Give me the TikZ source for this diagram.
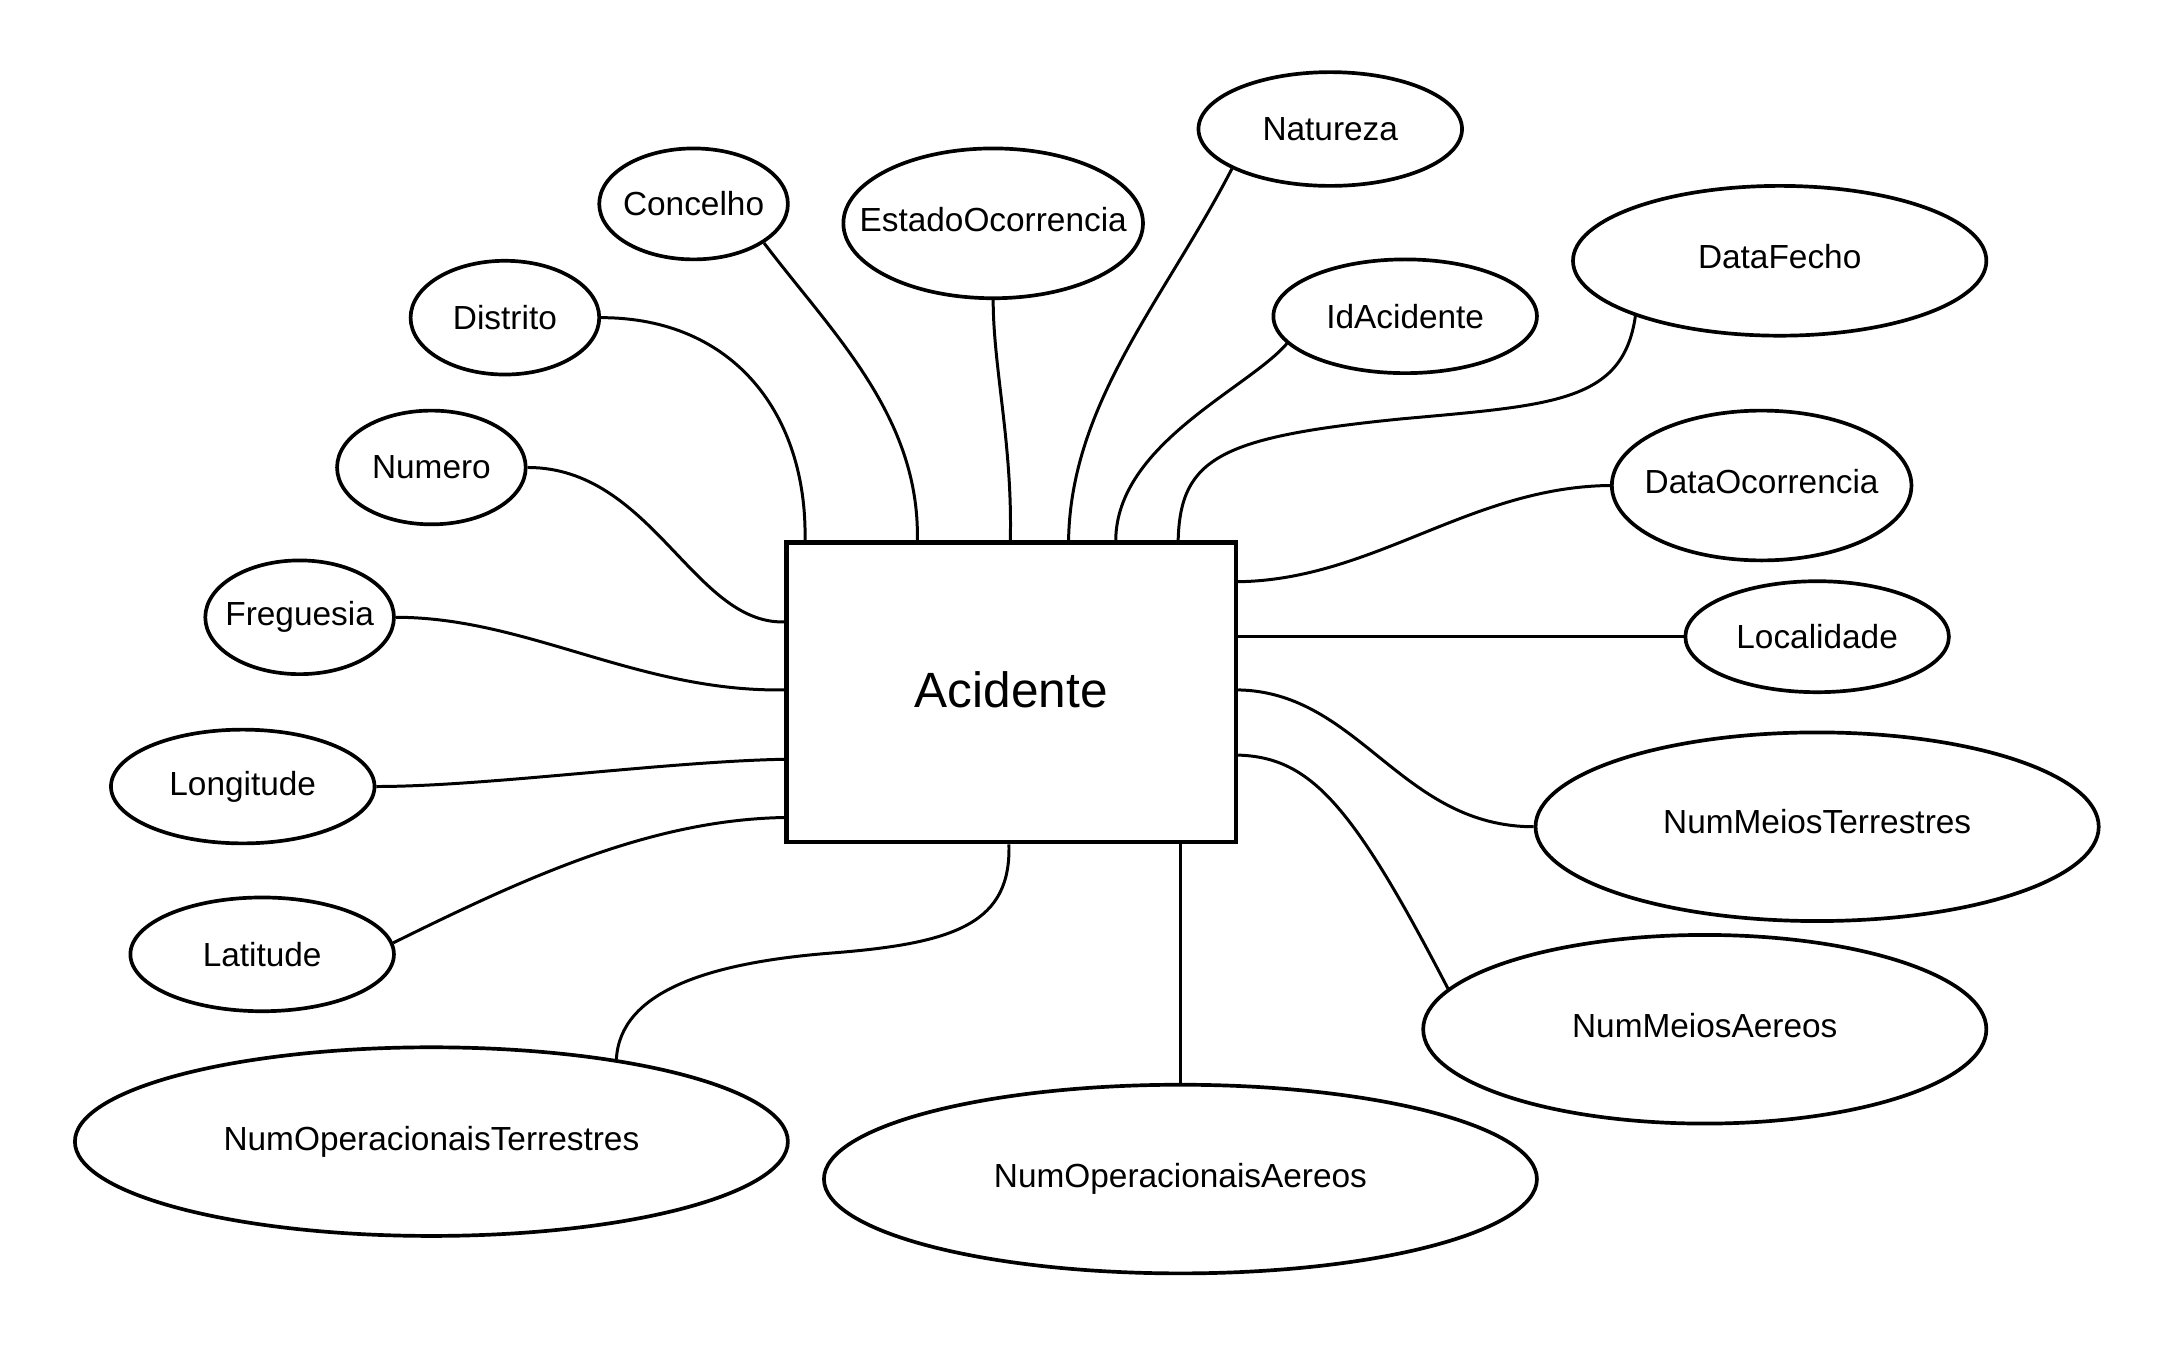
\documentclass[tikz,border=0pt]{standalone}
\usepackage{fontspec}
\setmainfont{Liberation Sans}
\usetikzlibrary{shapes.geometric,calc}
\newcommand\attrtext[2][0pt]{\raisebox{#1}{\makebox[0pt]{#2}}}
\tikzset{
  attr/.style n args={2}{ellipse, draw, line width=1.05pt, inner sep=0pt,
    minimum width={2*#1*0.01387cm}, minimum height={2*#2*0.01387cm},
    font=\fontsize{9.5}{11}\selectfont},
  entity/.style={draw, line width=1.3pt, inner sep=0pt,
    minimum width={324*0.01387cm}, minimum height={216*0.01387cm},
    font=\fontsize{14.1}{16}\selectfont},
  conn/.style={line width=0.85pt}
}
\begin{document}
\begin{tikzpicture}[x=0.01387cm, y=-0.01387cm]
\useasboundingbox (0,0) rectangle (1568,973);
\node[entity] (R) at (729,499) {\raisebox{1.6pt}{Acidente}};
\node[attr={68}{41}] (dis) at (364,229) {\attrtext{Distrito}};
\node[attr={68}{40}] (con) at (500,147) {\attrtext{Concelho}};
\node[attr={108}{54}] (est) at (716,161) {\attrtext[2.4pt]{EstadoOcorrencia}};
\node[attr={95}{41}] (nat) at (959,93) {\attrtext{Natureza}};
\node[attr={95}{41}] (ida) at (1013,228) {\attrtext{IdAcidente}};
\node[attr={149}{54}] (dfe) at (1283,188) {\attrtext[2.4pt]{DataFecho}};
\node[attr={68}{41}] (num) at (311,337) {\attrtext{Numero}};
\node[attr={108}{54}] (doc) at (1270,350) {\attrtext[2.4pt]{DataOcorrencia}};
\node[attr={68}{41}] (fre) at (216,445) {\attrtext{Freguesia}};
\node[attr={95}{40}] (loc) at (1310,459) {\attrtext{Localidade}};
\node[attr={95}{41}] (lon) at (175,567) {\attrtext{Longitude}};
\node[attr={203}{68}] (nmt) at (1310,596) {\attrtext[3pt]{NumMeiosTerrestres}};
\node[attr={95}{41}] (lat) at (189,688) {\attrtext{Latitude}};
\node[attr={203}{68}] (nma) at (1229,742) {\attrtext[2.4pt]{NumMeiosAereos}};
\node[attr={257}{68}] (nop) at (311,823) {\attrtext[2pt]{NumOperacionaisTerrestres}};
\node[attr={257}{68}] (noa) at (851,850) {\attrtext[2pt]{NumOperacionaisAereos}};
% top
\draw[conn] (dis.east) .. controls (530,229) and (582,300) .. ($(R.north west)+(15,0)$);
\draw[conn] (con.-29) .. controls (600,240) and (663,300) .. ($(R.north west)+(96,0)$);
\draw[conn] (est.south) .. controls (716,265) and (730,320) .. ($(R.north west)+(163,0)$);
\draw[conn] (nat.-158) .. controls (840,215) and (772,290) .. ($(R.north west)+(205,0)$);
\draw[conn] (ida.-167) .. controls (900,280) and (805,320) .. ($(R.north west)+(239,0)$);
\draw[conn] (dfe.-159) .. controls (1170,290) and (1120,292) .. (1010,302)
  .. controls (880,315) and (851,330) .. ($(R.north west)+(284,0)$);
% left
\draw[conn] (num.east) .. controls (470,337) and (500,450) .. ($(R.north west)+(0,59)$);
\draw[conn] (fre.east) .. controls (380,445) and (460,499) .. ($(R.north west)+(0,108)$);
\draw[conn] (lon.east) .. controls (350,567) and (480,549) .. ($(R.north west)+(0,158)$);
\draw[conn] (lat.5) .. controls (380,632) and (470,591) .. ($(R.north west)+(0,200)$);
% right
\draw[conn] ($(R.north east)+(0,30)$) .. controls (990,418) and (1060,351) .. (doc.west);
\draw[conn] (R.east |- loc.west) -- (loc.west);
\draw[conn] ($(R.north east)+(0,108)$) .. controls (980,499) and (1010,596) .. (nmt.west);
\draw[conn] ($(R.north east)+(0,155)$) .. controls (945,546) and (975,580) .. (nma.171);
% bottom
\draw[conn] (R.south -| noa.north) -- (noa.north);
\draw[conn] ($(R.south west)+(162,0)$) .. controls (729,665) and (690,680) .. (600,687)
  .. controls (510,694) and (447,715) .. (nop.24);
\end{tikzpicture}
\end{document}
